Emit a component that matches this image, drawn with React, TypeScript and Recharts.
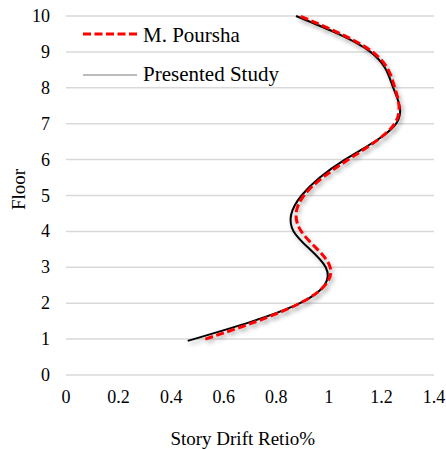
import { LineChart, Line, XAxis, YAxis, CartesianGrid, Legend } from "recharts"

// story drift ratio (%) per floor
const poursaFloors = [1, 2, 3, 4, 5, 6, 7, 8, 9, 10]
const poursaDrift = [0.53, 0.89, 1.005, 0.895, 0.905, 1.074, 1.25, 1.251, 1.166, 0.89]

const studyFloors = [0.95, 2, 3, 4, 5, 6, 7, 8, 9, 10]
const studyDrift = [0.463, 0.89, 0.988, 0.866, 0.896, 1.061, 1.256, 1.245, 1.158, 0.875]

const driftTicks = [0, 0.2, 0.4, 0.6, 0.8, 1, 1.2, 1.4]
const floorTicks = [0, 1, 2, 3, 4, 5, 6, 7, 8, 9, 10]

const poursha = poursaFloors.map((f, i) => ({ floor: f, drift: poursaDrift[i] }))
const study = studyFloors.map((f, i) => ({ floor: f, drift: studyDrift[i] }))

const FONT = "'Liberation Serif', Tinos, 'Times New Roman', serif"
const txt = (size: number) => ({ fontFamily: FONT, fontSize: size, fill: "#000" })

function XTick(props: any) {
  const { x, y, payload } = props
  return (
    <text x={x} y={y} dy={13} textAnchor="middle" style={txt(18)}>
      {payload.value}
    </text>
  )
}

function YTick(props: any) {
  const { x, y, payload } = props
  return (
    <text x={x} y={y} dy={6} textAnchor="end" style={txt(18)}>
      {payload.value}
    </text>
  )
}

function LegendBox() {
  return (
    <svg width={240} height={70} style={{ display: "block" }}>
      <line x1={5} y1={18} x2={59} y2={18} stroke="#ff0000" strokeWidth={3} strokeDasharray="8 3.5" />
      <text x={65} y={25.5} style={txt(21)}>M. Poursha</text>
      <line x1={5} y1={59} x2={59} y2={59} stroke="#a6a6a6" strokeWidth={1.5} />
      <text x={65} y={64.5} style={txt(21)}>Presented Study</text>
    </svg>
  )
}

export default function App() {
  return (
    <div style={{ width: 446, height: 449, fontFamily: FONT }}>
      <style>{`body { margin: 0; }`}</style>
      <LineChart
        width={446}
        height={449}
        layout="vertical"
        margin={{ top: 16, right: 12, bottom: 0, left: 8 }}
      >
        <defs>
          <filter id="softShadow" x="-10%" y="-10%" width="130%" height="130%">
            <feDropShadow dx={2} dy={3} stdDeviation={2} floodColor="#000" floodOpacity={0.25} />
          </filter>
        </defs>
        <CartesianGrid vertical={false} stroke="#d9d9d9" strokeWidth={1.5} />
        <XAxis
          type="number"
          dataKey="drift"
          domain={[0, 1.4]}
          ticks={driftTicks}
          axisLine={false}
          tickLine={false}
          tickMargin={9}
          height={74}
          tick={<XTick />}
          label={{
            content: () => (
              <text x={242.7} y={445} textAnchor="middle" style={txt(19)}>
                Story Drift Retio%
              </text>
            ),
          }}
        />
        <YAxis
          type="number"
          dataKey="floor"
          domain={[0, 10]}
          ticks={floorTicks}
          reversed
          axisLine={false}
          tickLine={false}
          tickMargin={10}
          width={58}
          tick={<YTick />}
          label={{
            content: () => (
              <text
                x={19.3}
                y={189.5}
                dy={6}
                transform="rotate(-90, 19.3, 189.5)"
                textAnchor="middle"
                style={txt(19)}
              >
                Floor
              </text>
            ),
          }}
        />
        <Legend
          layout="vertical"
          align="center"
          verticalAlign="middle"
          wrapperStyle={{ left: 78, top: 16, width: 240 }}
          content={() => <LegendBox />}
        />
        <Line
          data={study}
          dataKey="drift"
          name="Presented Study"
          type="natural"
          stroke="#000"
          strokeWidth={2}
          dot={false}
          filter="url(#softShadow)"
          isAnimationActive={false}
        />
        <Line
          data={poursha}
          dataKey="drift"
          name="M. Poursha"
          type="natural"
          stroke="#ff0000"
          strokeWidth={3}
          strokeDasharray="8 3.5"
          dot={false}
          filter="url(#softShadow)"
          isAnimationActive={false}
        />
      </LineChart>
    </div>
  )
}
